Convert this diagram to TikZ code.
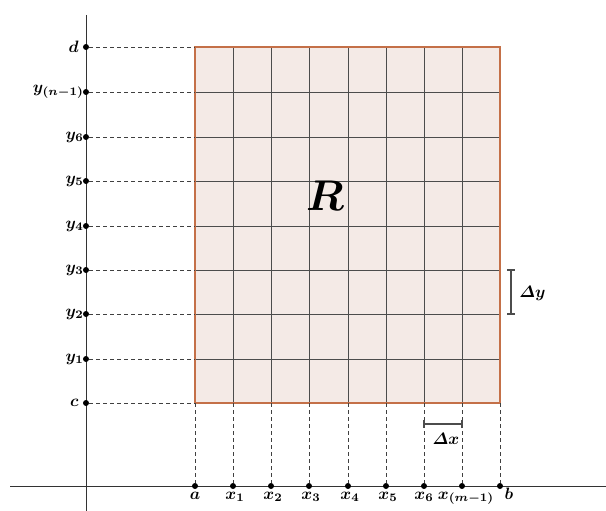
\documentclass[tikz,border=0pt]{standalone}
\usepackage{amsmath}
\usepackage{bm}
\begin{document}
\begin{tikzpicture}[x=1pt,y=-1pt,
  lbl/.style={scale=1.65, inner sep=0.6pt},
  dot/.style={circle,fill=black,inner sep=0pt,minimum size=6pt},
  guide/.style={draw=black!75, line width=0.8pt, dash pattern=on 4pt off 3pt},
  gridline/.style={draw=black!70, line width=0.9pt},
  bracket/.style={draw=black!70, line width=1.5pt},
  axis/.style={draw=black!80, line width=0.7pt}]
\useasboundingbox (0,0) rectangle (606,511);
% region
\fill[fill={rgb,255:red,244;green,234;blue,230}] (195,47) rectangle (500,403);
\foreach \xx in {233,271,309,348,386,424,462} \draw[gridline] (\xx,47) -- (\xx,403);
\foreach \yy in {92,137,181,226,270,314,359} \draw[gridline] (195,\yy) -- (500,\yy);
\draw[draw={rgb,255:red,196;green,112;blue,72}, line width=1.5pt] (195,47) rectangle (500,403);
% axes
\draw[axis] (86,15) -- (86,511);
\draw[axis] (10,486) -- (606,486);
% y-axis points
\foreach \yy/\nm/\tx/\lx in {47/d/{\bm{d}}/80,92/yn/{\bm{y_{(n-1)}}}/85,137/ysix/{\bm{y_6}}/85,181/yfive/{\bm{y_5}}/85,226/yfour/{\bm{y_4}}/85,270/ythree/{\bm{y_3}}/85,314/ytwo/{\bm{y_2}}/85,359/yone/{\bm{y_1}}/85,403/c/{\bm{c}}/80}{
  \node[dot] (\nm) at (86,\yy) {};
  \coordinate (\nm e) at (195,\yy);
  \draw[guide] (\nm) -- (\nm e);
  \node[lbl, anchor=east] at (\lx,\yy) {$\tx$};
}
% x-axis points
\foreach \xx/\nm/\tx/\lx in {195/a/{\bm{a}}/195,233/xone/{\bm{x_1}}/235,271/xtwo/{\bm{x_2}}/273,309/xthree/{\bm{x_3}}/311,348/xfour/{\bm{x_4}}/350,386/xfive/{\bm{x_5}}/388,424/xsix/{\bm{x_6}}/424,462/xm/{\bm{x_{(m-1)}}}/466,500/b/{\bm{b}}/509}{
  \node[dot] (\nm) at (\xx,486) {};
  \coordinate (\nm e) at (\xx,403);
  \draw[guide] (\nm e) -- (\nm);
  \node[lbl, anchor=base] at (\lx,499) {$\tx$};
}
% R label
\node[scale=4.3] (R) at (325,196) {$\bm{R}$};
% Delta y
\coordinate (dyt) at (511,270);
\coordinate (dyb) at (511,314);
\draw[bracket] (dyt) -- (dyb);
\draw[bracket] (507,270) -- (515,270);
\draw[bracket] (507,314) -- (515,314);
\node[lbl, anchor=west] (dy) at (518,293) {$\bm{\varDelta y}$};
% Delta x
\coordinate (dxl) at (424,424);
\coordinate (dxr) at (462,424);
\draw[bracket] (dxl) -- (dxr);
\draw[bracket] (424,420) -- (424,428);
\draw[bracket] (462,420) -- (462,428);
\node[lbl] (dx) at (446,439) {$\bm{\varDelta x}$};
\end{tikzpicture}
\end{document}
